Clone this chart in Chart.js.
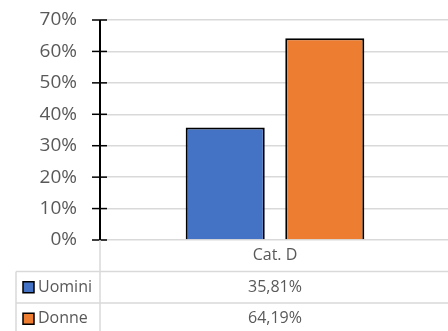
<!DOCTYPE html>
<html>
<head>
<meta charset="utf-8">
<script src="https://cdn.jsdelivr.net/npm/chart.js@4/dist/chart.umd.min.js"></script>
<style>
  html, body { margin: 0; padding: 0; background: #fff; overflow: hidden; }
  #wrap { width: 450px; height: 331px; }
</style>
</head>
<body>
<div id="wrap"><canvas id="c" width="450" height="331"></canvas></div>
<script>
// Share of employees by gender, category D
const categories = ['Cat. D'];
const seriesNames = ['Uomini', 'Donne'];
const seriesColors = ['#4472C4', '#ED7D31'];
const uomini = [35.81];
const donne = [64.19];
const yTickValues = [0, 10, 20, 30, 40, 50, 60, 70];

const textColor = '#595959';
const lineColor = '#D9D9D9';
const fontFamily = '"Open Sans", "Noto Sans", sans-serif';

const fmt = v => v.toFixed(2).replace('.', ',') + '%';

// Y axis line with cross tick marks
const axisPlugin = {
  id: 'axisCross',
  afterDatasetsDraw(chart) {
    const { ctx, chartArea, scales } = chart;
    const y = scales.y;
    ctx.save();
    ctx.strokeStyle = '#000';
    ctx.lineWidth = 1.5;
    yTickValues.forEach(v => {
      const py = y.getPixelForValue(v);
      ctx.beginPath();
      ctx.moveTo(chartArea.left - 8, py);
      ctx.lineTo(chartArea.left + 7, py);
      ctx.stroke();
    });
    ctx.lineWidth = 2;
    ctx.beginPath();
    ctx.moveTo(chartArea.left, y.getPixelForValue(yTickValues[yTickValues.length - 1]));
    ctx.lineTo(chartArea.left, y.getPixelForValue(0));
    ctx.stroke();
    ctx.restore();
  }
};

// Data table under the plot area
const tablePlugin = {
  id: 'dataTable',
  afterDraw(chart) {
    const { ctx, chartArea, scales } = chart;
    const x = scales.x;
    const top = chartArea.bottom;
    const rowH = 31.5;
    const keyLeft = 16;
    const right = chart.width;
    const bottom = chart.height;
    const series = [uomini, donne];

    ctx.save();
    ctx.strokeStyle = lineColor;
    ctx.lineWidth = 1.5;
    ctx.beginPath();
    ctx.moveTo(chartArea.left, top);
    ctx.lineTo(chartArea.left, bottom);
    ctx.moveTo(keyLeft, top + rowH);
    ctx.lineTo(keyLeft, bottom);
    for (let i = 1; i <= series.length; i++) {
      const ly = top + rowH * i;
      ctx.moveTo(keyLeft, ly);
      ctx.lineTo(right, ly);
    }
    ctx.stroke();

    ctx.fillStyle = textColor;
    ctx.font = '16px ' + fontFamily;
    ctx.textBaseline = 'middle';
    ctx.textAlign = 'center';
    categories.forEach((cat, ci) => {
      const cx = x.getPixelForValue(ci);
      ctx.fillText(cat, cx, top + rowH / 2);
      series.forEach((vals, si) => {
        ctx.fillText(fmt(vals[ci]), cx, top + rowH * (si + 1.5));
      });
    });

    series.forEach((vals, si) => {
      const cy = top + rowH * (si + 1.5);
      ctx.fillStyle = seriesColors[si];
      ctx.fillRect(23, cy - 5.5, 11, 11);
      ctx.strokeStyle = '#000';
      ctx.lineWidth = 1.5;
      ctx.strokeRect(23, cy - 5.5, 11, 11);
      ctx.fillStyle = textColor;
      ctx.textAlign = 'left';
      ctx.fillText(seriesNames[si], 38, cy);
    });
    ctx.restore();
  }
};

new Chart(document.getElementById('c'), {
  type: 'bar',
  data: {
    labels: categories,
    datasets: [
      { label: seriesNames[0], data: uomini, backgroundColor: seriesColors[0] },
      { label: seriesNames[1], data: donne, backgroundColor: seriesColors[1] }
    ]
  },
  options: {
    responsive: false,
    animation: false,
    devicePixelRatio: 1,
    layout: { padding: { top: 20, right: 0, bottom: 91, left: 0 } },
    datasets: {
      bar: {
        borderColor: '#000',
        borderWidth: 2,
        categoryPercentage: 0.569,
        barPercentage: 0.794
      }
    },
    plugins: { legend: { display: false }, tooltip: { enabled: false } },
    scales: {
      x: { display: false },
      y: {
        min: 0,
        max: 70,
        afterFit(scale) {
          scale.width = 100;
          scale.paddingTop = 0;
          scale.paddingBottom = 0;
        },
        afterBuildTicks(scale) { scale.ticks = yTickValues.map(v => ({ value: v })); },
        grid: { color: lineColor, lineWidth: 1.5, drawTicks: false },
        border: { display: false },
        ticks: {
          padding: 23,
          color: textColor,
          font: { family: fontFamily, size: 19 },
          callback: v => v + '%'
        }
      }
    }
  },
  plugins: [axisPlugin, tablePlugin]
});
</script>
</body>
</html>
